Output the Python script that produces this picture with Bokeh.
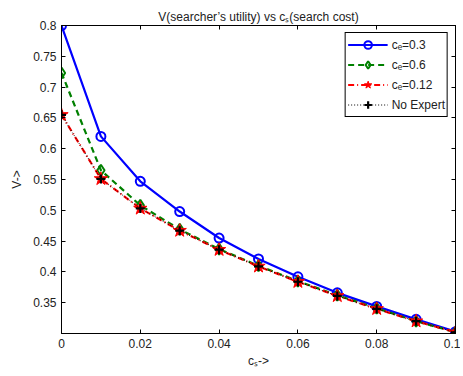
from bokeh.plotting import figure
from bokeh.models import LinearAxis, Legend, Range1d, FixedTicker, CustomJSTickFormatter
from bokeh.embed import file_html
from bokeh.resources import INLINE

cs = [0.0, 0.01, 0.02, 0.03, 0.04, 0.05, 0.06, 0.07, 0.08, 0.09, 0.1]
v_ce03 = [0.800, 0.620, 0.547, 0.498, 0.455, 0.421, 0.392, 0.366, 0.344, 0.323, 0.303]
v_ce06 = [0.723, 0.565, 0.508, 0.469, 0.437, 0.410, 0.385, 0.362, 0.341, 0.320, 0.302]
v_ce012 = [0.655, 0.551, 0.503, 0.467, 0.436, 0.409, 0.384, 0.361, 0.340, 0.320, 0.302]
v_noexp = [0.655, 0.551, 0.503, 0.467, 0.436, 0.409, 0.384, 0.361, 0.340, 0.320, 0.302]
labels = ["cₑ=0.3", "cₑ=0.6", "cₑ=0.12", "No Expert"]
xticks = [0, 0.02, 0.04, 0.06, 0.08, 0.1]
yticks = [0.35, 0.4, 0.45, 0.5, 0.55, 0.6, 0.65, 0.7, 0.75, 0.8]

FONT = "Liberation Sans"

p = figure(width=460, height=370, output_backend="svg", toolbar_location=None,
           x_range=Range1d(0, 0.1), y_range=Range1d(0.3, 0.8),
           min_border_left=61, min_border_right=5, min_border_top=25, min_border_bottom=34)
p.title.text = "V(searcher’s utility) vs cₛ(search cost)"
p.title.align = "center"
p.title.text_font = FONT
p.title.text_font_size = "12px"
p.title.text_font_style = "normal"
p.title.text_color = "#222222"
p.title.standoff = 4

p.grid.visible = False
p.outline_line_color = "black"
p.outline_line_width = 1
p.background_fill_color = "white"
p.border_fill_color = "white"

for ax in [p.xaxis[0], p.yaxis[0]]:
    ax.major_tick_in = 4
    ax.major_tick_out = 0
    ax.minor_tick_line_color = None
    ax.major_label_text_font = FONT
    ax.major_label_text_font_size = "12px"
    ax.major_label_text_color = "#222222"
    ax.axis_label_text_font = FONT
    ax.axis_label_text_font_size = "12px"
    ax.axis_label_text_font_style = "normal"
    ax.axis_label_text_color = "#222222"
    ax.axis_line_color = "black"
    ax.major_tick_line_color = "black"

p.xaxis[0].ticker = FixedTicker(ticks=xticks)
p.yaxis[0].ticker = FixedTicker(ticks=yticks)
p.xaxis[0].major_label_overrides = {0: "0", 0.1: "0.1"}
p.yaxis[0].major_label_overrides = {0.8: "0.8"}
p.xaxis[0].axis_label = "cₛ->"
p.yaxis[0].axis_label = "V->"
p.xaxis[0].major_label_standoff = 5
p.xaxis[0].axis_label_standoff = 3
p.yaxis[0].major_label_standoff = 5
p.yaxis[0].axis_label_standoff = 6

blank = CustomJSTickFormatter(code="return ''")
top = LinearAxis(ticker=FixedTicker(ticks=xticks), formatter=blank,
                 major_tick_in=4, major_tick_out=0, minor_tick_line_color=None,
                 major_label_standoff=0)
right = LinearAxis(ticker=FixedTicker(ticks=yticks), formatter=blank,
                   major_tick_in=4, major_tick_out=0, minor_tick_line_color=None,
                   major_label_standoff=0)
p.add_layout(top, "above")
p.add_layout(right, "right")

l1 = p.line(cs, v_ce03, line_color="blue", line_width=2.2)
s1 = p.scatter(cs, v_ce03, marker="circle", size=9, fill_color="white", fill_alpha=0,
               line_color="blue", line_width=2)
l2 = p.line(cs, v_ce06, line_color="green", line_width=2.2, line_dash="6 4")
s2 = p.scatter(cs, v_ce06, marker="diamond", size=11, fill_alpha=0,
               line_color="green", line_width=2)
l3 = p.line(cs, v_ce012, line_color="red", line_width=2.2, line_dash="6 3 1 3")
s3 = p.scatter(cs, v_ce012, marker="star", size=14, fill_color="red",
               line_color="red", line_width=1)
l4 = p.line(cs, v_noexp, line_color="black", line_width=1, line_dash="1 2")
s4 = p.scatter(cs, v_noexp, marker="cross", size=9, line_color="black", line_width=2.2)

legend = Legend(items=[(labels[0], [l1, s1]), (labels[1], [l2, s2]),
                       (labels[2], [l3, s3]), (labels[3], [l4, s4])],
                location="top_right")
legend.label_text_font = FONT
legend.label_text_font_size = "12px"
legend.label_text_color = "#222222"
legend.border_line_color = "black"
legend.border_line_width = 1
legend.border_line_alpha = 1
legend.spacing = 1
legend.padding = 2
legend.margin = 7
legend.glyph_width = 40
legend.glyph_height = 19
legend.label_standoff = 4
legend.label_height = 19
p.add_layout(legend, "center")

open("out.html", "w").write(file_html(p, INLINE))
